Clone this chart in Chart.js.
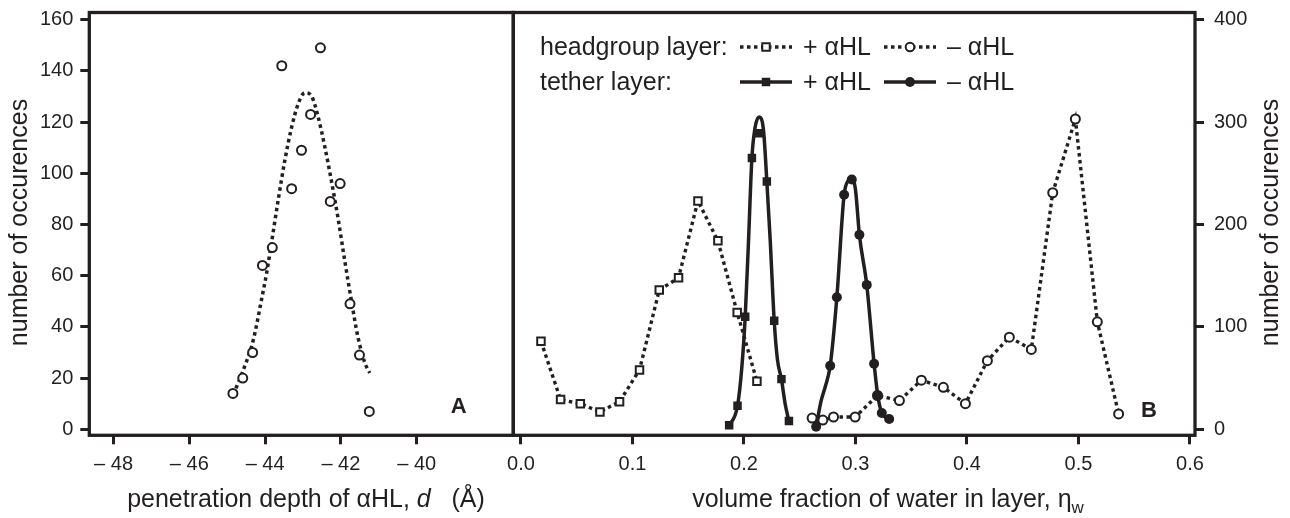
<!DOCTYPE html>
<html>
<head>
<meta charset="utf-8">
<title>alpha-HL penetration depth and water volume fraction</title>
<script src="https://cdn.jsdelivr.net/npm/chart.js@4.4.1/dist/chart.umd.min.js"></script>
<style>
  html, body { margin: 0; padding: 0; background: #fff; }
  #wrap { position: relative; width: 1290px; height: 518px; }
  #wrap canvas { position: absolute; left: 0; top: 0; }
</style>
</head>
<body>
<div id="wrap">
  <canvas id="chartA" width="1290" height="518"></canvas>
  <canvas id="chartB" width="1290" height="518"></canvas>
</div>
<script>
/* Two panels: A = penetration depth histogram, B = water volume fraction */

// ── Panel A data ─────────────────────────────────────────────────
const depthValues = [-44.85, -44.59, -44.33, -44.07, -43.81, -43.56, -43.30, -43.04, -42.80, -42.54, -42.28, -42.02, -41.76, -41.51, -41.25];
const depthCounts = [14, 20, 30, 64, 71, 142, 94, 109, 123, 149, 89, 96, 49, 29, 7];
const depthFitX = [-44.77, -44.58, -44.31, -44.09, -43.96, -43.83, -43.65, -43.48, -43.30, -43.13, -42.95, -42.77, -42.60, -42.42, -42.25, -42.07, -41.90, -41.72, -41.55, -41.37, -41.24];
const depthFitY = [16, 23, 35, 51, 61, 73, 90, 105, 118, 127, 131.5, 130, 122, 110, 97, 82, 66, 50, 36, 26, 22];
const depthTicks = [-48, -46, -44, -42, -40];
const countTicksA = [0, 20, 40, 60, 80, 100, 120, 140, 160];

// ── Panel B data ─────────────────────────────────────────────────
const headPlusEta = [0.0179, 0.0355, 0.0532, 0.0708, 0.0884, 0.1063, 0.1240, 0.1413, 0.1587, 0.1766, 0.1939, 0.2116];
const headPlusCounts = [86, 29, 25, 17, 27, 58, 136, 148, 223, 184, 114, 47];
const headMinusEta = [0.2611, 0.2707, 0.2803, 0.2997, 0.3197, 0.3394, 0.3591, 0.3788, 0.3986, 0.4183, 0.4380, 0.4577, 0.4769, 0.4972, 0.5169, 0.5360];
const headMinusCounts = [11, 9, 12, 12, 33, 28, 48, 41, 25, 67, 90, 78, 231, 303, 105, 15];
const tetherPlusEta = [0.1867, 0.1942, 0.2011, 0.2071, 0.2136, 0.2205, 0.2271, 0.2336, 0.2403];
const tetherPlusCounts = [4, 23, 110, 265, 289, 242, 106, 49, 8];
const tetherPlusFitEta = [0.1847, 0.1867, 0.1942, 0.1981, 0.2011, 0.2041, 0.2071, 0.2100, 0.2136, 0.2175, 0.2205, 0.2235, 0.2271, 0.2300, 0.2336, 0.2369, 0.2403];
const tetherPlusFitCounts = [1, 4, 23, 61, 110, 185, 265, 295, 305, 292, 242, 185, 106, 68, 49, 25, 8];
const tetherMinusEta = [0.2647, 0.2773, 0.2833, 0.2898, 0.2967, 0.3035, 0.3101, 0.3167, 0.3200, 0.3236, 0.3302];
const tetherMinusCounts = [2.5, 62, 129, 229, 244, 190, 141, 64, 33, 16, 10];
const tetherMinusFitEta = [0.2647, 0.2690, 0.2730, 0.2773, 0.2833, 0.2898, 0.2935, 0.2967, 0.3000, 0.3035, 0.3101, 0.3167, 0.3200, 0.3236, 0.3302];
const tetherMinusFitCounts = [2, 27, 42, 62, 129, 229, 243, 246, 234, 190, 141, 64, 33, 16, 10];
const etaTicks = [0, 0.1, 0.2, 0.3, 0.4, 0.5, 0.6];
const countTicksB = [0, 100, 200, 300, 400];

// ── Styling ──────────────────────────────────────────────────────
const INK = '#231f20';
const FAMILY = '"Liberation Sans", Arial, Helvetica, sans-serif';
const TICK_FONT = { family: FAMILY, size: 20 };
const TITLE_FONT = '25px ' + FAMILY;
const DOT = [3.5, 3.5];
// plot frame in page pixels (both canvases cover the whole page)
const FRAME = { top: 12.5, bottom: 435.3, left: 89.3, mid: 513.3, right: 1195 };

const pts = (xs, ys) => xs.map((x, i) => ({ x, y: ys[i] }));

// keep the frame where it is: no extra room for overhanging tick labels
function noOverhang(s) {
  s.paddingTop = 0; s.paddingBottom = 0; s.paddingLeft = 0; s.paddingRight = 0;
}

function axisStyle(values, fmt, padding) {
  return {
    type: 'linear',
    afterBuildTicks: s => { s.ticks = values.map(v => ({ value: v })); },
    ticks: { callback: fmt, color: INK, font: TICK_FONT, padding, autoSkip: false, maxRotation: 0, minRotation: 0 },
    grid: { drawOnChartArea: false, drawTicks: true, tickLength: 9, lineWidth: 3, color: INK },
    border: { display: false },
  };
}

const framePlugin = {
  id: 'frame',
  beforeDatasetsDraw(chart) {
    const { ctx, chartArea: a } = chart;
    ctx.save();
    ctx.strokeStyle = INK;
    ctx.lineWidth = 3.3;
    ctx.strokeRect(a.left, a.top, a.right - a.left, a.bottom - a.top);
    ctx.restore();
  },
};

// text pieces side by side, centred on cx
function drawRuns(ctx, runs, cx, baseline) {
  let total = 0;
  runs.forEach(r => { ctx.font = r.font; r.w = ctx.measureText(r.text).width; total += r.w; });
  let x = cx - total / 2;
  ctx.textAlign = 'left';
  runs.forEach(r => { ctx.font = r.font; ctx.fillText(r.text, x, baseline + (r.dy || 0)); x += r.w; });
}

function drawVertical(ctx, text, x, cy) {
  ctx.save();
  ctx.translate(x, cy);
  ctx.rotate(-Math.PI / 2);
  ctx.font = TITLE_FONT;
  ctx.textAlign = 'center';
  ctx.fillText(text, 0, 0);
  ctx.restore();
}

function drawMarker(ctx, kind, x, y) {
  ctx.save();
  ctx.setLineDash([]);
  ctx.lineWidth = 2;
  ctx.strokeStyle = INK;
  ctx.fillStyle = kind.startsWith('open') ? '#fff' : INK;
  ctx.beginPath();
  if (kind === 'openSquare') ctx.rect(x - 3.75, y - 3.75, 7.5, 7.5);
  else if (kind === 'square') ctx.rect(x - 4.25, y - 4.25, 8.5, 8.5);
  else if (kind === 'openCircle') ctx.arc(x, y, 4.3, 0, Math.PI * 2);
  else ctx.arc(x, y, 5, 0, Math.PI * 2);
  ctx.fill();
  if (kind.startsWith('open')) ctx.stroke();
  ctx.restore();
}

function drawSample(ctx, x0, x1, y, dotted, marker) {
  ctx.save();
  ctx.strokeStyle = INK;
  ctx.lineWidth = 3.4;
  ctx.setLineDash(dotted ? DOT : []);
  ctx.beginPath();
  ctx.moveTo(x0, y);
  ctx.lineTo(x1, y);
  ctx.stroke();
  ctx.restore();
  drawMarker(ctx, marker, (x0 + x1) / 2, y);
}

const panelAText = {
  id: 'panelAText',
  afterDraw(chart) {
    const ctx = chart.ctx;
    ctx.save();
    ctx.fillStyle = INK;
    ctx.textBaseline = 'alphabetic';
    drawVertical(ctx, 'number of occurences', 27.3, 222.5);
    drawRuns(ctx, [
      { text: 'penetration depth of αHL, ', font: TITLE_FONT },
      { text: 'd', font: 'italic ' + TITLE_FONT },
      { text: '   (Å)', font: TITLE_FONT },
    ], 306, 507);
    ctx.font = 'bold 22px ' + FAMILY;
    ctx.textAlign = 'center';
    ctx.fillText('A', 458.7, 412.5);
    ctx.restore();
  },
};

const panelBText = {
  id: 'panelBText',
  afterDraw(chart) {
    const ctx = chart.ctx;
    ctx.save();
    ctx.fillStyle = INK;
    ctx.textBaseline = 'alphabetic';
    drawVertical(ctx, 'number of occurences', 1278, 222.5);
    drawRuns(ctx, [
      { text: 'volume fraction of water in layer, η', font: TITLE_FONT },
      { text: 'w', font: '17px ' + FAMILY, dy: 6 },
    ], 888, 507);
    ctx.font = 'bold 22px ' + FAMILY;
    ctx.textAlign = 'center';
    ctx.fillText('B', 1149, 416.5);

    // legend, two rows
    ctx.font = TITLE_FONT;
    ctx.textAlign = 'left';
    ctx.fillText('headgroup layer:', 540, 55);
    ctx.fillText('tether layer:', 540, 90);
    drawSample(ctx, 740, 792, 47, true, 'openSquare');
    drawSample(ctx, 884, 936, 47, true, 'openCircle');
    drawSample(ctx, 740, 792, 82, false, 'square');
    drawSample(ctx, 884, 936, 82, false, 'circle');
    ctx.fillStyle = INK;
    ctx.font = TITLE_FONT;
    ctx.fillText('+ αHL', 803, 55);
    ctx.fillText('– αHL', 947, 55);
    ctx.fillText('+ αHL', 803, 90);
    ctx.fillText('– αHL', 947, 90);
    ctx.restore();
  },
};

const baseOptions = {
  responsive: false,
  animation: false,
  devicePixelRatio: 1,
  events: [],
  plugins: { legend: { display: false }, tooltip: { enabled: false } },
};

// ── Panel A ──────────────────────────────────────────────────────
new Chart(document.getElementById('chartA'), {
  type: 'line',
  data: {
    datasets: [
      {
        label: 'occurrences',
        data: pts(depthValues, depthCounts),
        showLine: false,
        pointStyle: 'circle',
        pointRadius: 4.5,
        pointBorderWidth: 2,
        pointBackgroundColor: '#fff',
        pointBorderColor: INK,
        order: 0,
      },
      {
        label: 'fit',
        data: pts(depthFitX, depthFitY),
        borderColor: INK,
        borderWidth: 3.5,
        borderDash: DOT,
        pointRadius: 0,
        cubicInterpolationMode: 'monotone',
        fill: false,
        order: 1,
      },
    ],
  },
  options: {
    ...baseOptions,
    layout: { padding: { left: 0, right: 1290 - FRAME.mid, top: FRAME.top, bottom: 0 } },
    scales: {
      x: {
        ...axisStyle(depthTicks, v => '– ' + Math.abs(v), 8),
        min: -48.64, max: -37.45,
        afterFit: s => { s.height = 518 - FRAME.bottom; noOverhang(s); },
      },
      y: {
        ...axisStyle(countTicksA, v => String(v), 7),
        min: -2.34, max: 162.8,
        afterFit: s => { s.width = FRAME.left; noOverhang(s); },
      },
    },
  },
  plugins: [framePlugin, panelAText],
});

// ── Panel B ──────────────────────────────────────────────────────
new Chart(document.getElementById('chartB'), {
  type: 'line',
  data: {
    datasets: [
      {
        label: 'tether +αHL',
        data: pts(tetherPlusEta, tetherPlusCounts),
        showLine: false,
        pointStyle: 'rect', pointRadius: 6, pointBorderWidth: 0,
        pointBackgroundColor: INK, pointBorderColor: INK,
        order: 0,
      },
      {
        label: 'tether -αHL',
        data: pts(tetherMinusEta, tetherMinusCounts),
        showLine: false,
        pointStyle: 'circle', pointRadius: 5, pointBorderWidth: 0,
        pointBackgroundColor: INK, pointBorderColor: INK,
        order: 1,
      },
      {
        label: 'tether +αHL fit',
        data: pts(tetherPlusFitEta, tetherPlusFitCounts),
        borderColor: INK, borderWidth: 3.5, pointRadius: 0,
        cubicInterpolationMode: 'monotone', fill: false,
        order: 2,
      },
      {
        label: 'tether -αHL fit',
        data: pts(tetherMinusFitEta, tetherMinusFitCounts),
        borderColor: INK, borderWidth: 3.5, pointRadius: 0,
        cubicInterpolationMode: 'monotone', fill: false,
        order: 3,
      },
      {
        label: 'headgroup -αHL',
        data: pts(headMinusEta, headMinusCounts),
        borderColor: INK, borderWidth: 3.4, borderDash: DOT, tension: 0,
        pointStyle: 'circle', pointRadius: 4.5, pointBorderWidth: 2,
        pointBackgroundColor: '#fff', pointBorderColor: INK,
        fill: false,
        order: 4,
      },
      {
        label: 'headgroup +αHL',
        data: pts(headPlusEta, headPlusCounts),
        borderColor: INK, borderWidth: 3.4, borderDash: DOT, tension: 0,
        pointStyle: 'rect', pointRadius: 5.3, pointBorderWidth: 2,
        pointBackgroundColor: '#fff', pointBorderColor: INK,
        fill: false,
        order: 5,
      },
    ],
  },
  options: {
    ...baseOptions,
    layout: { padding: { left: FRAME.mid, right: 0, top: FRAME.top, bottom: 0 } },
    scales: {
      x: {
        ...axisStyle(etaTicks, v => v.toFixed(1), 8),
        min: -0.0069, max: 0.6045,
        afterFit: s => { s.height = 518 - FRAME.bottom; noOverhang(s); },
      },
      y: {
        ...axisStyle(countTicksB, v => String(v), 10),
        position: 'right',
        min: -5.86, max: 407,
        afterFit: s => { s.width = 1290 - FRAME.right; noOverhang(s); },
      },
    },
  },
  plugins: [framePlugin, panelBText],
});
</script>
</body>
</html>
